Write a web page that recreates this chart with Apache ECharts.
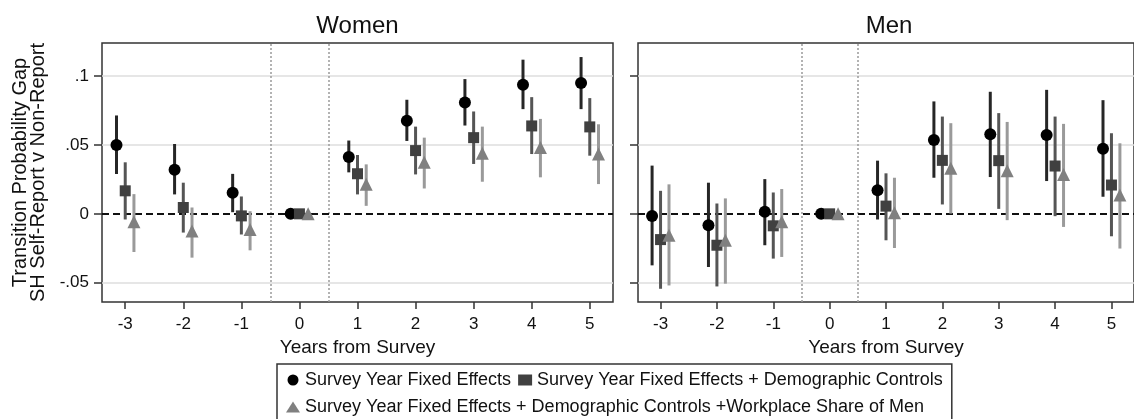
<!DOCTYPE html>
<html lang="en" style="height: 100%">
<head>
  <meta charset="utf-8">
</head>
<body style="height: 100%; margin: 0; background: #ffffff">
  <div id="container" style="width: 1134px; height: 419px"></div>

  <script type="text/javascript" src="https://cdn.jsdelivr.net/npm/echarts@6.0.0/dist/echarts.min.js"></script>
  <script type="text/javascript">
// years relative to the survey
var years = [-3, -2, -1, 0, 1, 2, 3, 4, 5];
var yTicks = [-0.05, 0, 0.05, 0.1];
var gridValues = [-0.05, 0.05, 0.1];
var periodBreaks = [-0.5, 0.5];
var modelNames = [
  'Survey Year Fixed Effects',
  'Survey Year Fixed Effects + Demographic Controls',
  'Survey Year Fixed Effects + Demographic Controls +Workplace Share of Men'
];

// Women: point estimate, lower CI, upper CI
var womenFE     = [0.0500, 0.0320, 0.0153, 0, 0.0413, 0.0675, 0.0808, 0.0937, 0.0949];
var womenFELo   = [0.0289, 0.0141, 0.0012, 0, 0.0301, 0.0529, 0.0641, 0.0760, 0.0760];
var womenFEHi   = [0.0714, 0.0507, 0.0290, 0, 0.0532, 0.0828, 0.0978, 0.1119, 0.1138];
var womenDem    = [0.0167, 0.0046, -0.0015, 0, 0.0291, 0.0459, 0.0553, 0.0638, 0.0631];
var womenDemLo  = [-0.0041, -0.0136, -0.0150, 0, 0.0141, 0.0286, 0.0362, 0.0434, 0.0422];
var womenDemHi  = [0.0374, 0.0226, 0.0126, 0, 0.0427, 0.0633, 0.0743, 0.0847, 0.0840];
var womenShr    = [-0.0058, -0.0124, -0.0114, 0, 0.0214, 0.0374, 0.0439, 0.0481, 0.0434];
var womenShrLo  = [-0.0277, -0.0318, -0.0265, 0, 0.0058, 0.0184, 0.0233, 0.0265, 0.0216];
var womenShrHi  = [0.0143, 0.0046, 0.0019, 0, 0.0359, 0.0553, 0.0633, 0.0689, 0.0650];

// Men
var menFE     = [-0.0015, -0.0083, 0.0015, 0, 0.0172, 0.0536, 0.0578, 0.0573, 0.0473];
var menFELo   = [-0.0374, -0.0386, -0.0228, 0, -0.0041, 0.0262, 0.0267, 0.0238, 0.0124];
var menFEHi   = [0.0350, 0.0226, 0.0252, 0, 0.0386, 0.0816, 0.0886, 0.0900, 0.0825];
var menDem    = [-0.0187, -0.0228, -0.0087, 0, 0.0056, 0.0388, 0.0386, 0.0347, 0.0209];
var menDemLo  = [-0.0544, -0.0527, -0.0325, 0, -0.0192, 0.0068, 0.0036, -0.0017, -0.0163];
var menDemHi  = [0.0167, 0.0075, 0.0155, 0, 0.0294, 0.0706, 0.0731, 0.0706, 0.0585];
var menShr    = [-0.0155, -0.0192, -0.0058, 0, 0.0007, 0.0330, 0.0313, 0.0286, 0.0136];
var menShrLo  = [-0.0520, -0.0507, -0.0313, 0, -0.0248, 0.0002, -0.0046, -0.0095, -0.0252];
var menShrHi  = [0.0214, 0.0112, 0.0180, 0, 0.0262, 0.0658, 0.0667, 0.0653, 0.0512];

var dodge = [-0.15, 0, 0.15];
var symbols = ['circle', 'rect', 'triangle'];
var symbolSizes = [12, 11, 13];
var markerColors = ['#000000', '#404040', '#808080'];
var ciColors = ['#262626', '#555555', '#9a9a9a'];
var FONT = 'Liberation Sans, Arial, sans-serif';

var dom = document.getElementById('container');
var myChart = echarts.init(dom, null, { renderer: 'canvas' });

function refLines() {
  var d = [];
  gridValues.forEach(function (v) {
    d.push({ yAxis: v, lineStyle: { color: '#dedede', width: 1.5, type: 'solid' } });
  });
  periodBreaks.forEach(function (v) {
    d.push({ xAxis: v, lineStyle: { color: '#9a9a9a', width: 1.5, type: [2, 2] } });
  });
  d.push({ yAxis: 0, lineStyle: { color: '#111', width: 2, type: [7, 4] } });
  return d;
}

function panelSeries(gi, est, lo, hi) {
  var out = [];
  for (var k = 0; k < 3; k++) {
    (function (k) {
      var ci = years.map(function (y, i) { return [y + dodge[k], lo[k][i], hi[k][i]]; });
      out.push({
        type: 'custom',
        xAxisIndex: gi, yAxisIndex: gi,
        z: 3,
        silent: true,
        encode: { x: 0, y: [1, 2] },
        data: ci,
        renderItem: function (params, api) {
          var a = api.coord([api.value(0), api.value(1)]);
          var b = api.coord([api.value(0), api.value(2)]);
          return {
            type: 'line',
            shape: { x1: a[0], y1: a[1], x2: b[0], y2: b[1] },
            style: { stroke: ciColors[k], lineWidth: 3 }
          };
        },
        markLine: k === 0 ? {
          silent: true, symbol: 'none', label: { show: false }, animation: false,
          z: 1, data: refLines()
        } : undefined
      });
      out.push({
        name: modelNames[k],
        type: 'scatter',
        xAxisIndex: gi, yAxisIndex: gi,
        z: 4,
        symbol: symbols[k],
        symbolSize: symbolSizes[k],
        itemStyle: { color: markerColors[k], opacity: 1 },
        data: years.map(function (y, i) { return [y + dodge[k], est[k][i]]; })
      });
    })(k);
  }
  return out;
}

function xAxisFor(gi) {
  return {
    gridIndex: gi, type: 'value', min: -3.4, max: 5.4, position: 'bottom',
    axisLine: { show: false, onZero: false },
    axisTick: { show: true, inside: false, length: 7, customValues: years, lineStyle: { color: '#333', width: 1.5 } },
    axisLabel: { customValues: years, fontSize: 17, color: '#111', margin: 14, fontFamily: FONT },
    splitLine: { show: false },
    name: 'Years from Survey', nameLocation: 'middle', nameGap: 34,
    nameTextStyle: { fontSize: 19, color: '#111', fontFamily: FONT }
  };
}

function yAxisFor(gi) {
  var ax = {
    gridIndex: gi, type: 'value', min: -0.064, max: 0.124, position: 'left',
    axisLine: { show: false, onZero: false },
    axisTick: { show: true, inside: false, length: 8, customValues: yTicks, lineStyle: { color: '#333', width: 1.5 } },
    axisLabel: {
      show: gi === 0, customValues: yTicks, fontSize: 17, color: '#111', margin: 13, fontFamily: FONT,
      formatter: function (v) { return v === 0 ? '0' : String(+v.toFixed(3)).replace('0.', '.'); }
    },
    splitLine: { show: false }
  };
  if (gi === 0) {
    ax.name = 'Transition Probability Gap\nSH Self-Report v Non-Report';
    ax.nameLocation = 'middle';
    ax.nameGap = 55;
    ax.nameTextStyle = { fontSize: 20, lineHeight: 18, color: '#111', fontFamily: FONT };
  }
  return ax;
}

var option = {
  animation: false,
  backgroundColor: '#ffffff',
  textStyle: { fontFamily: FONT },
  grid: [
    { left: 102, top: 43, width: 511, height: 259, show: true, borderColor: '#333', borderWidth: 1.5, backgroundColor: 'transparent' },
    { left: 638, top: 43, width: 502, height: 259, show: true, borderColor: '#333', borderWidth: 1.5, backgroundColor: 'transparent' }
  ],
  graphic: [
    { type: 'text', x: 357.5, y: 26, style: { text: 'Women', align: 'center', verticalAlign: 'middle', font: '24px ' + FONT, fill: '#111' } },
    { type: 'text', x: 889, y: 26, style: { text: 'Men', align: 'center', verticalAlign: 'middle', font: '24px ' + FONT, fill: '#111' } }
  ],
  legend: {
    left: 277, top: 364,
    width: 680,
    padding: [6, 9, 8, 9],
    itemGap: 7,
    itemWidth: 14, itemHeight: 11,
    borderColor: '#333', borderWidth: 1.5,
    textStyle: { fontSize: 18, color: '#111', lineHeight: 20, fontFamily: FONT },
    data: [
      { name: modelNames[0], icon: 'circle' },
      { name: modelNames[1], icon: 'rect' },
      { name: modelNames[2], icon: 'triangle' }
    ]
  },
  xAxis: [xAxisFor(0), xAxisFor(1)],
  yAxis: [yAxisFor(0), yAxisFor(1)],
  series: [].concat(
    panelSeries(0, [womenFE, womenDem, womenShr], [womenFELo, womenDemLo, womenShrLo], [womenFEHi, womenDemHi, womenShrHi]),
    panelSeries(1, [menFE, menDem, menShr], [menFELo, menDemLo, menShrLo], [menFEHi, menDemHi, menShrHi])
  )
};

myChart.setOption(option);
window.addEventListener('resize', myChart.resize);
  </script>
</body>
</html>
